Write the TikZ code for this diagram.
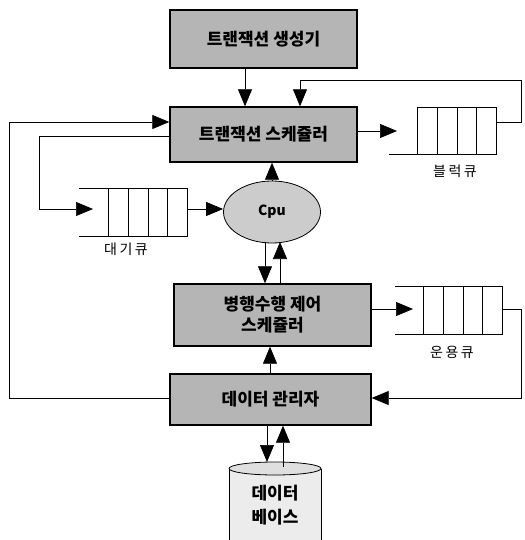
\documentclass[tikz,border=0pt]{standalone}
\usepackage{fontspec}
\newfontfamily\kr{Noto Sans CJK KR}
\newfontfamily\krsp{Noto Sans CJK KR}[LetterSpace=18]
\usetikzlibrary{arrows.meta,shapes.geometric,calc}
\begin{document}
\begin{tikzpicture}[x=1pt,y=-1pt,
  box/.style={draw=black, line width=1.4pt, fill=gray!58, inner sep=0pt,
    font=\kr\bfseries\fontsize{17}{21}\selectfont, align=center},
  arr/.style={-{Triangle[length=17pt,width=14pt]}, line width=0.7pt},
  ln/.style={line width=0.7pt},
  qlabel/.style={font=\krsp\fontsize{14}{16}\selectfont}]
\useasboundingbox (0,0) rectangle (524,540);
% main boxes
\node[box, minimum width=187pt, minimum height=58pt] (gen) at (263.5,39) {트랜잭션 생성기};
\node[box, minimum width=187pt, minimum height=55pt] (ts) at (263.5,134.5) {트랜잭션 스케쥴러};
\node[ellipse, draw=black, line width=0.8pt, fill=gray!40, minimum width=97pt, minimum height=62pt,
  font=\kr\bfseries\fontsize{14}{16}\selectfont] (cpu) at (272,212) {Cpu};
\node[box, minimum width=197pt, minimum height=62pt] (cc) at (272.5,315) {병행수행 제어\\스케쥴러};
\node[box, minimum width=201pt, minimum height=51pt] (dm) at (270.5,399.5) {데이터 관리자};
% database cylinder
\fill[gray!15] (229,468.5) -- (229,540) -- (321,540) -- (321,468.5) -- cycle;
\fill[gray!25] (275,468.5) ellipse [x radius=46, y radius=6.5];
\draw[line width=0.8pt] (275,468.5) ellipse [x radius=46, y radius=6.5];
\draw[line width=0.8pt] (229,468.5) -- (229,540) (321,468.5) -- (321,540);
\node[font=\kr\bfseries\fontsize{17}{24}\selectfont, align=center] (db) at (275,505) {데이터\\베이스};
% queues
\node[minimum width=107pt, minimum height=47pt, inner sep=0pt] (bq) at (442.5,130.5) {};
\draw[ln] (417,107) -- (496,107) -- (496,154) -- (389,154);
\foreach \x in {417,437,457,476} \draw[ln] (\x,107) -- (\x,154);
\node[qlabel] (bql) at (455,171) {블럭큐};
\node[minimum width=108pt, minimum height=48pt, inner sep=0pt] (wq) at (133,212) {};
\draw[ln] (79,188) -- (187,188) -- (187,236) -- (79,236);
\foreach \x in {108,128,148,167} \draw[ln] (\x,188) -- (\x,236);
\node[qlabel] (wql) at (126,249) {대기큐};
\node[minimum width=107pt, minimum height=48pt, inner sep=0pt] (oq) at (448.5,310) {};
\draw[ln] (395,286) -- (502,286) -- (502,334) -- (395,334);
\foreach \x in {423,443,463,482} \draw[ln] (\x,286) -- (\x,334);
\node[qlabel] (oql) at (452,352) {운용큐};
% connectors
\draw[arr] (gen.south -| 245,0) -- (ts.north -| 245,0);
\coordinate (bqout) at (496,122);
\draw[arr] (bqout) -- (521,122) -- (521,80) -- (300,80) -- (ts.north -| 300,0);
\coordinate (bqin) at (397,131);
\draw[arr] (ts.east |- bqin) -- (bqin);
\coordinate (wqin) at (93,209);
\draw[arr] (ts.west |- 0,136) -- (39,136) -- (39,209) -- (wqin);
\draw[arr] (wq.east |- 0,209) -- (cpu.west |- 0,209);
\draw[arr] (cpu.north) -- (ts.south -| cpu.north);
\draw[arr] (cpu.south -| 265,0) ++(0,-1) -- (cc.north -| 265,0);
\draw[arr] (cc.north -| 280,0) -- (280,242);
\coordinate (oqin) at (413,309);
\draw[arr] (cc.east |- oqin) -- (oqin);
\draw[arr] (502,309) -- (521,309) -- (521,398) -- (dm.east |- 0,398);
\draw[arr] (dm.west |- 0,398) -- (9,398) -- (9,122) -- (ts.west |- 0,122);
\draw[arr] (dm.north -| 270,0) -- (cc.south -| 270,0);
\draw[arr] (dm.south -| 267,0) -- (267,462);
\draw[arr] (283,467) -- (dm.south -| 283,0);
\end{tikzpicture}
\end{document}
